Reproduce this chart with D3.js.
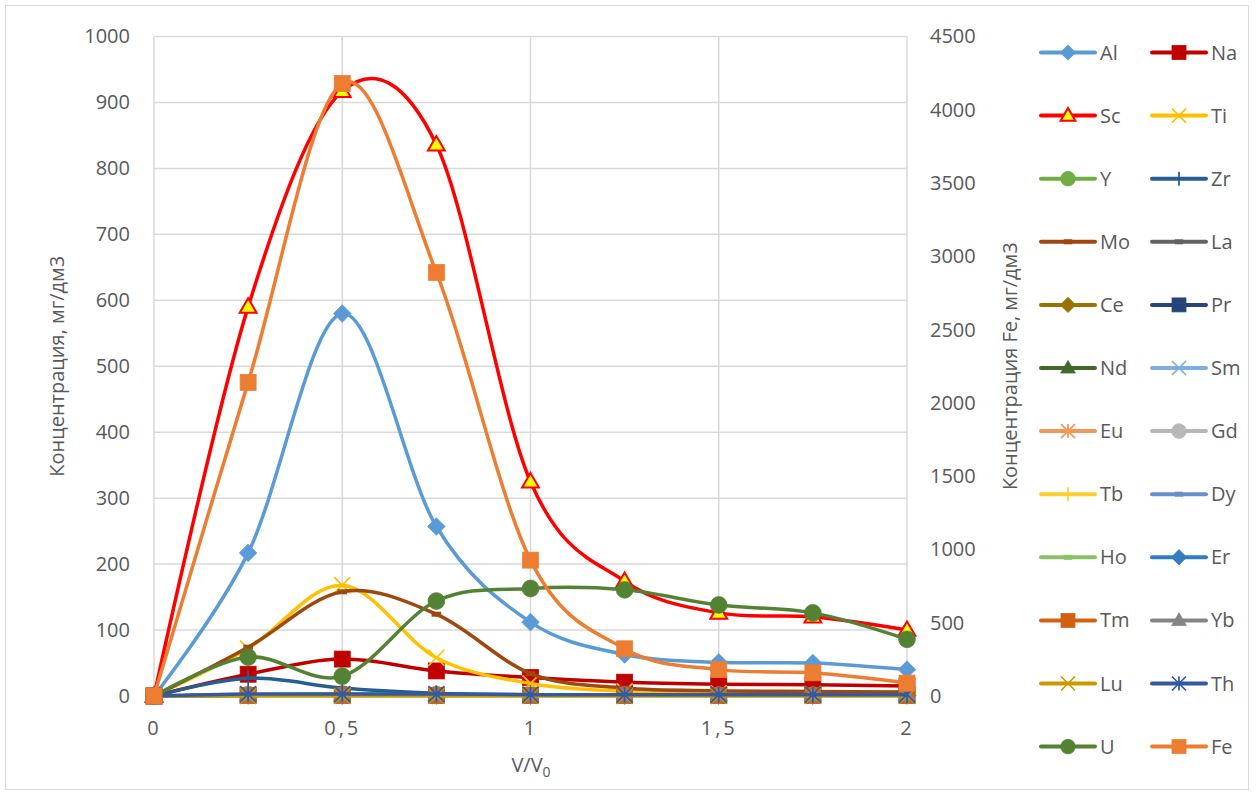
<!DOCTYPE html>
<html><head><meta charset="utf-8">
<script src="https://cdn.jsdelivr.net/npm/d3@7"></script>
<style>
body{margin:0;background:#fff}
text{font-family:"Open Sans",sans-serif;fill:#595959}
</style>
</head><body>
<svg id="c" width="1257" height="795"></svg>
<script>
// ---- data ----
const xVals = [0, 0.25, 0.5, 0.75, 1, 1.25, 1.5, 1.75, 2];
const xTickVals = [0, 0.5, 1, 1.5, 2];
const xTickLabels = ["0", "0,5", "1", "1,5", "2"];
const yTicks = [0,100,200,300,400,500,600,700,800,900,1000];
const y2Ticks = [0,500,1000,1500,2000,2500,3000,3500,4000,4500];

const Al = [0, 217, 580, 257, 112, 63, 51, 50, 40];
const Na = [0, 33, 56, 38, 28, 21, 18, 17, 15];
const Sc = [0, 590, 917, 836, 325, 174, 126, 120, 100];
const Ti = [0, 72, 168, 58, 19, 7, 4, 3, 2];
const Y  = [0, 2, 3, 2, 1, 1, 1, 1, 1];
const Zr = [0, 27, 12, 4, 2, 2, 2, 2, 2];
const Mo = [0, 74, 158, 124, 34, 12, 8, 7, 6];
const La = [0, 1, 1, 1, 1, 1, 1, 1, 1];
const Ce = [0, 1, 1, 1, 1, 1, 1, 1, 1];
const Pr = [0, 1, 1, 1, 1, 1, 1, 1, 1];
const Nd = [0, 1, 1, 1, 1, 1, 1, 1, 1];
const Sm = [0, 1, 1, 1, 1, 1, 1, 1, 1];
const Eu = [0, 1, 1, 1, 1, 1, 1, 1, 1];
const Gd = [0, 1, 1, 1, 1, 1, 1, 1, 1];
const Tb = [0, 1, 1, 1, 1, 1, 1, 1, 1];
const Dy = [0, 1, 1, 1, 1, 1, 1, 1, 1];
const Ho = [0, 1, 1, 1, 1, 1, 1, 1, 1];
const Er = [0, 1, 1, 1, 1, 1, 1, 1, 1];
const Tm = [0, 1, 1, 1, 1, 1, 1, 1, 1];
const Yb = [0, 1, 1, 1, 1, 1, 1, 1, 1];
const Lu = [0, 0, 0, 0, 0, 0, 0, 0, 0];
const Th = [0, 3, 3, 3, 2, 2, 2, 2, 2];
const U  = [0, 59, 30, 144, 163, 161, 138, 126, 86];
const Fe = [0, 2140, 4180, 2890, 927, 322, 180, 158, 88];

const names   = ["Al","Na","Sc","Ti","Y","Zr","Mo","La","Ce","Pr","Nd","Sm","Eu","Gd","Tb","Dy","Ho","Er","Tm","Yb","Lu","Th","U","Fe"];
const values  = [Al,Na,Sc,Ti,Y,Zr,Mo,La,Ce,Pr,Nd,Sm,Eu,Gd,Tb,Dy,Ho,Er,Tm,Yb,Lu,Th,U,Fe];
const colors  = ["#5B9BD5","#C00000","#FF0000","#FFC000","#70AD47","#255E91","#9E480E","#636363","#997300","#264478","#43682B","#7CAFDD","#F1975A","#B7B7B7","#FFCD33","#698ED0","#8CC168","#327DC2","#D26012","#848484","#CC9A00","#335AA1","#548235","#ED7D31"];
const markers = ["diamond","square","triangle","x","circle","plus","dash","dash","diamond","square","triangle","x","star","circle","plus","dash","dash","diamond","square","triangle","x","star","circle","square"];
const axisOf  = names.map(n => n === "Fe" ? 2 : 1);

// ---- layout ----
const svg = d3.select("#c");
const x = d3.scaleLinear().domain([0, 2]).range([154, 907]);
const y = d3.scaleLinear().domain([0, 1000]).range([696, 36.5]);
const y2 = d3.scaleLinear().domain([0, 4500]).range([696, 36.5]);

svg.append("rect").attr("x", 5.5).attr("y", 5.5).attr("width", 1243).attr("height", 784)
  .attr("fill", "#fff").attr("stroke", "#d9d9d9").attr("stroke-width", 1);

// gridlines
const grid = svg.append("g");
grid.selectAll(".h").data(yTicks).join("line")
  .attr("x1", x(0)).attr("x2", x(2)).attr("y1", d => y(d)).attr("y2", d => y(d))
  .attr("stroke", "#d9d9d9").attr("stroke-width", 1.5);
grid.selectAll(".v").data(xTickVals).join("line")
  .attr("y1", y(0)).attr("y2", y(1000)).attr("x1", d => x(d)).attr("x2", d => x(d))
  .attr("stroke", "#d9d9d9").attr("stroke-width", 1.5);

// axes
const fs = "20px";
const gl = svg.append("g").attr("transform", `translate(${x(0)},0)`)
  .call(d3.axisLeft(y).tickValues(yTicks).tickSize(0).tickPadding(24).tickFormat(d3.format("d")));
const gr = svg.append("g").attr("transform", `translate(${x(2)},0)`)
  .call(d3.axisRight(y2).tickValues(y2Ticks).tickSize(0).tickPadding(23).tickFormat(d3.format("d")));
const gb = svg.append("g").attr("transform", `translate(0,${y(0)})`)
  .call(d3.axisBottom(x).tickValues(xTickVals).tickSize(0).tickPadding(25)
    .tickFormat((d, i) => xTickLabels[i]));
[gl, gr, gb].forEach(g => {
  g.select(".domain").remove();
  g.selectAll("text").attr("font-size", fs).attr("fill", "#595959").attr("font-family", '"Open Sans",sans-serif');
});
gb.selectAll("text").attr("letter-spacing", "3px");

// axis titles
svg.append("text").attr("transform", `translate(64,${(y(0)+y(1000))/2}) rotate(-90)`)
  .attr("text-anchor", "middle").attr("font-size", fs).text("Концентрация, мг/дм3");
svg.append("text").attr("transform", `translate(1017,${(y(0)+y(1000))/2}) rotate(-90)`)
  .attr("text-anchor", "middle").attr("font-size", fs).text("Концентрация Fe, мг/дм3");
const xt = svg.append("text").attr("x", 531).attr("y", 772).attr("text-anchor", "middle").attr("font-size", fs);
xt.append("tspan").text("V/V");
xt.append("tspan").attr("font-size", "14px").attr("dy", 5).text("0");

// markers
function marker(g, type, color, s, isSc) {
  const r = s / 2;
  if (type === "square") {
    g.append("rect").attr("x", -r).attr("y", -r).attr("width", s).attr("height", s)
      .attr("fill", color).attr("stroke", color).attr("stroke-width", 0.75);
  } else if (type === "diamond") {
    const q = r * 1.1;
    g.append("path").attr("d", `M0,${-q}L${q},0L0,${q}L${-q},0Z`).attr("fill", color).attr("stroke", color).attr("stroke-width", 0.75);
  } else if (type === "triangle") {
    const w = s * 1.05, h = s * 0.9;
    g.append("path").attr("d", `M0,${-h*0.6}L${w/2},${h*0.4}L${-w/2},${h*0.4}Z`)
      .attr("fill", isSc ? "#FFFF00" : color).attr("stroke", color).attr("stroke-width", isSc ? 2 : 0.75);
  } else if (type === "circle") {
    g.append("circle").attr("r", r * 1.05).attr("fill", color).attr("stroke", color).attr("stroke-width", 0.75);
  } else if (type === "x") {
    g.append("path").attr("d", `M${-r},${-r}L${r},${r}M${r},${-r}L${-r},${r}`).attr("stroke", color).attr("stroke-width", 1.75).attr("fill", "none");
  } else if (type === "star") {
    g.append("path").attr("d", `M${-r},${-r}L${r},${r}M${r},${-r}L${-r},${r}M0,${-r}L0,${r}`).attr("stroke", color).attr("stroke-width", 1.75).attr("fill", "none");
  } else if (type === "plus") {
    g.append("path").attr("d", `M0,${-r}L0,${r}M${-r},0L${r},0`).attr("stroke", color).attr("stroke-width", 1.75).attr("fill", "none");
  } else if (type === "dash") {
    g.append("path").attr("d", `M${-r*0.6},0L${r*0.6},0`).attr("stroke", color).attr("stroke-width", 5).attr("fill", "none");
  }
}

// series
const plot = svg.append("g");
names.forEach((n, i) => {
  const sc = axisOf[i] === 2 ? y2 : y;
  const pts = xVals.map((xv, k) => [x(xv), sc(values[i][k])]);
  const line = d3.line().curve(d3.curveCatmullRom.alpha(0));
  const g = plot.append("g");
  g.append("path").attr("d", line(pts)).attr("fill", "none").attr("stroke", colors[i])
    .attr("stroke-width", 3.5).attr("stroke-linejoin", "round").attr("stroke-linecap", "round");
  pts.forEach(p => {
    const mg = g.append("g").attr("transform", `translate(${p[0]},${p[1]})`);
    marker(mg, markers[i], colors[i], 16, n === "Sc");
  });
});

// legend
const leg = svg.append("g");
const colX = [1041, 1152];
names.forEach((n, i) => {
  const col = i % 2, row = Math.floor(i / 2);
  const ly = 52.5 + row * 63.1;
  const x0 = colX[col];
  const g = leg.append("g");
  g.append("line").attr("x1", x0).attr("x2", x0 + 54).attr("y1", ly).attr("y2", ly)
    .attr("stroke", colors[i]).attr("stroke-width", 4).attr("stroke-linecap", "round");
  const mg = g.append("g").attr("transform", `translate(${x0 + 27},${ly})`);
  marker(mg, markers[i], colors[i], 14, n === "Sc");
  g.append("text").attr("x", x0 + 59).attr("y", ly).attr("dy", "0.35em").attr("font-size", fs).text(n);
});
</script>
</body></html>
